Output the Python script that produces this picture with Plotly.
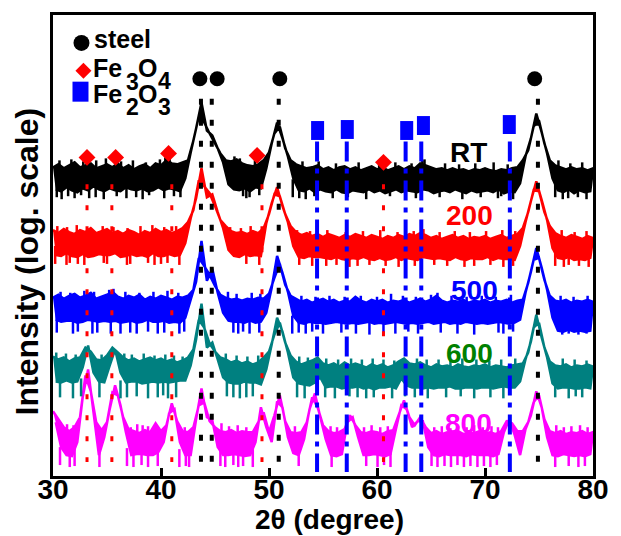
import numpy as np
import plotly.graph_objects as go

# ---------------------------------------------------------------------------
# XRD patterns (offset, log intensity). Each noisy pattern is stored as its
# upper edge (sampled at 30.0, 30.5 ... 80.0 deg), its solid lower edge
# (sampled at 30.25, 30.75 ... 79.75 deg), the isolated downward spikes that
# reach below the lower edge and the short upward ticks above the upper edge
# (2theta and tip value for both).
# ---------------------------------------------------------------------------
two_theta_top = np.linspace(30.0, 80.0, 101)
two_theta_bot = np.linspace(30.25, 79.75, 100)

rt_top = [
    311, 314, 310, 313, 316, 311, 313, 315, 310, 312,
    314, 311, 315, 310, 313, 309, 312, 314, 310, 315,
    313, 318, 315, 314, 316, 318, 338, 362, 356, 345,
    335, 325, 318, 317, 319, 315, 313, 312, 314, 318,
    326, 345, 352, 330, 318, 314, 312, 310, 311, 313,
    309, 311, 308, 311, 312, 309, 311, 308, 310, 312,
    309, 311, 308, 310, 312, 309, 312, 310, 315, 313,
    311, 309, 310, 308, 310, 308, 309, 307, 309, 308,
    310, 308, 307, 309, 308, 310, 311, 318, 328, 352,
    358, 335, 318, 313, 311, 309, 311, 309, 310, 308,
    310]
rt_bot = [
    289, 287, 291, 288, 286, 290, 288, 292, 289, 287,
    290, 288, 287, 291, 289, 288, 290, 287, 288, 291,
    288, 290, 289, 287, 300, 326, 350, 376, 348, 343,
    330, 316, 294, 289, 288, 290, 287, 291, 290, 310,
    335, 356, 340, 322, 300, 288, 287, 290, 286, 289,
    287, 286, 289, 286, 285, 288, 287, 286, 289, 286,
    288, 285, 287, 289, 286, 288, 287, 286, 289, 288,
    285, 287, 288, 286, 289, 287, 285, 288, 286, 287,
    288, 286, 289, 285, 287, 286, 295, 322, 340, 365,
    346, 325, 300, 288, 286, 289, 285, 288, 286, 287]
rt_spike_x = [30.35, 30.8, 31.4, 32.0, 32.6, 33.35, 33.95, 34.7, 35.9, 36.8,
              37.7, 38.3, 38.9, 40.3, 41.2, 41.8, 47.6, 47.9, 48.2, 49.1,
              52.2, 52.8, 53.4, 54.2, 55.9, 57.3, 59.0, 61.2, 63.6, 65.8,
              67.9, 69.6, 71.2, 71.5, 72.6, 76.5, 77.2, 77.7, 78.6, 79.4]
rt_spike_y = [281, 279, 282, 280, 283, 280, 281, 279, 282, 280,
              281, 279, 283, 280, 282, 281, 282, 280, 281, 283,
              281, 280, 279, 282, 280, 281, 279, 282, 280, 281,
              279, 281, 280, 282, 279, 281, 279, 280, 281, 279]
rt_tick_x = [30.6, 31.7, 32.8, 34.0, 34.9, 36.3, 37.4, 38.6, 39.9, 40.4,
             40.8, 46.8, 47.3, 48.7, 53.1, 54.6, 56.2, 58.3, 60.2, 61.7,
             63.2, 64.2, 64.4, 66.3, 67.6, 69.1, 70.8, 72.1, 76.8, 77.9,
             79.0]
rt_tick_y = [318, 319, 317, 318, 320, 317, 318, 316, 319, 321,
             320, 322, 320, 318, 317, 317, 315, 316, 315, 316,
             315, 318, 319, 315, 314, 315, 316, 314, 318, 315,
             316]

t200_top = [
    248, 245, 249, 246, 244, 248, 246, 250, 245, 247,
    249, 245, 247, 244, 248, 246, 243, 247, 245, 249,
    246, 248, 245, 247, 250, 256, 268, 298, 292, 285,
    272, 258, 252, 247, 245, 246, 244, 247, 245, 250,
    264, 284, 282, 264, 252, 246, 243, 245, 242, 244,
    241, 244, 242, 240, 243, 241, 244, 242, 240, 243,
    241, 239, 242, 240, 243, 241, 244, 242, 245, 243,
    240, 242, 239, 241, 243, 240, 242, 239, 241, 240,
    242, 239, 241, 243, 240, 242, 244, 250, 266, 288,
    287, 266, 252, 245, 242, 240, 243, 241, 239, 242,
    240]
t200_bot = [
    223, 222, 225, 222, 221, 224, 221, 222, 224, 223,
    223, 225, 221, 222, 224, 222, 223, 221, 225, 222,
    222, 224, 222, 223, 235, 260, 280, 310, 281, 284,
    266, 250, 228, 222, 221, 224, 222, 223, 222, 255,
    275, 291, 272, 256, 232, 221, 220, 222, 221, 221,
    220, 219, 221, 219, 218, 220, 219, 221, 219, 218,
    220, 218, 219, 221, 218, 220, 219, 218, 221, 220,
    219, 220, 219, 218, 221, 219, 218, 220, 219, 219,
    221, 218, 220, 219, 219, 218, 232, 256, 277, 297,
    278, 258, 230, 220, 219, 221, 218, 219, 218, 220]
t200_spike_x = [30.2, 31.25, 31.55, 32.3, 32.9, 34.7, 35.0, 36.85, 37.15, 38.8,
                39.4, 40.0, 40.6, 41.7, 47.9, 49.1, 52.8, 54.0, 55.3, 56.25,
                57.45, 58.2, 59.3, 60.8, 62.0, 63.5, 65.3, 66.5, 68.1, 69.0,
                70.5, 71.7, 72.6, 76.5, 77.3, 77.75, 78.7, 79.6]
t200_spike_y = [214, 213, 215, 214, 213, 215, 214, 213, 214, 215,
                213, 214, 215, 213, 214, 213, 213, 212, 212, 213,
                211, 212, 213, 212, 211, 212, 213, 212, 211, 212,
                213, 211, 212, 212, 211, 213, 212, 211]
t200_tick_x = [30.4, 31.3, 32.2, 33.4, 34.6, 35.6, 36.9, 38.1, 39.2, 40.3,
               41.4, 46.4, 47.4, 48.3, 52.6, 53.8, 55.4, 57.1, 58.7, 60.3,
               61.9, 63.4, 64.3, 65.8, 67.2, 68.6, 70.1, 71.6, 72.8, 77.1,
               78.3, 79.4]
t200_tick_y = [252, 251, 253, 250, 252, 251, 250, 252, 253, 251,
               252, 251, 250, 252, 248, 247, 248, 246, 247, 248,
               246, 247, 249, 246, 247, 246, 247, 248, 247, 248,
               246, 247]

t500_top = [
    180, 183, 179, 182, 184, 180, 182, 185, 179, 181,
    183, 186, 181, 179, 182, 180, 183, 178, 181, 179,
    182, 180, 178, 181, 180, 182, 188, 220, 212, 203,
    192, 183, 180, 178, 179, 177, 179, 178, 180, 179,
    184, 200, 214, 193, 182, 179, 176, 178, 175, 177,
    179, 176, 178, 175, 177, 176, 181, 177, 175, 178,
    176, 178, 175, 177, 176, 178, 175, 177, 179, 176,
    178, 182, 177, 175, 177, 176, 178, 175, 177, 176,
    178, 175, 177, 176, 178, 175, 177, 178, 195, 218,
    220, 198, 182, 177, 176, 178, 175, 177, 176, 178,
    176]
t500_bot = [
    158, 156, 157, 157, 155, 156, 158, 157, 156, 157,
    156, 157, 155, 156, 157, 155, 156, 158, 156, 156,
    157, 155, 156, 155, 160, 178, 196, 237, 197, 209,
    185, 165, 157, 156, 156, 155, 157, 155, 156, 165,
    190, 222, 205, 186, 162, 155, 154, 156, 155, 155,
    154, 155, 156, 155, 154, 155, 154, 155, 156, 154,
    155, 154, 155, 156, 155, 154, 155, 154, 155, 156,
    154, 155, 156, 154, 155, 154, 156, 155, 154, 155,
    154, 155, 156, 155, 154, 155, 158, 185, 206, 230,
    210, 188, 160, 147, 146, 148, 146, 147, 146, 147]
t500_spike_x = [30.35, 31.85, 32.3, 33.65, 34.1, 35.35, 36.25, 37.15, 37.75, 38.8,
                39.7, 40.3, 41.7, 42.15, 46.7, 47.15, 47.6, 48.2, 49.1, 52.15,
                52.75, 53.4, 54.0, 55.0, 56.7, 58.05, 59.3, 60.6, 61.7, 62.9,
                63.8, 65.9, 67.45, 69.0, 71.25, 71.7, 72.6, 77.15, 77.75, 78.65,
                79.4]
t500_spike_y = [145, 144, 146, 144, 145, 144, 144, 145, 144, 146,
                144, 145, 144, 146, 145, 144, 146, 144, 145, 144,
                145, 144, 146, 144, 145, 144, 143, 145, 144, 146,
                144, 145, 144, 143, 145, 144, 146, 143, 144, 143,
                144]
t500_tick_x = [30.7, 31.6, 32.9, 33.8, 35.2, 35.6, 36.7, 38.0, 39.3, 40.6,
               41.6, 46.2, 47.0, 48.4, 49.2, 53.0, 54.3, 55.6, 57.0, 58.5,
               60.0, 61.3, 62.4, 63.6, 65.0, 65.6, 66.9, 68.3, 69.7, 71.0,
               72.4, 77.0, 78.2, 79.5]
t500_tick_y = [186, 185, 187, 186, 188, 189, 186, 185, 186, 187,
               185, 186, 184, 185, 184, 182, 181, 182, 181, 182,
               181, 184, 182, 181, 183, 185, 182, 181, 182, 181,
               183, 182, 181, 182]

t600_top = [
    121, 118, 120, 116, 119, 120, 130, 126, 118, 117,
    122, 130, 125, 120, 117, 119, 116, 118, 120, 117,
    119, 116, 118, 115, 117, 120, 128, 158, 150, 134,
    126, 120, 118, 115, 117, 114, 116, 113, 115, 120,
    126, 143, 155, 135, 122, 116, 113, 115, 117, 120,
    114, 112, 114, 111, 115, 112, 114, 112, 110, 113,
    111, 113, 110, 112, 116, 119, 114, 113, 115, 112,
    110, 113, 111, 112, 110, 113, 111, 110, 112, 111,
    113, 110, 112, 111, 110, 112, 113, 114, 125, 150,
    155, 130, 116, 112, 111, 113, 110, 112, 111, 113,
    111]
t600_bot = [
    96, 95, 97, 95, 96, 110, 132, 105, 96, 95,
    112, 128, 105, 95, 96, 96, 94, 95, 96, 95,
    96, 95, 96, 97, 97, 112, 138, 174, 130, 135,
    118, 100, 95, 94, 94, 96, 95, 95, 93, 108,
    133, 160, 146, 125, 100, 94, 93, 92, 95, 100,
    90, 91, 91, 89, 90, 90, 91, 89, 90, 88,
    90, 90, 91, 89, 99, 92, 90, 90, 89, 90,
    89, 90, 90, 91, 89, 89, 90, 90, 89, 90,
    90, 89, 90, 91, 90, 90, 96, 118, 136, 163,
    140, 120, 94, 89, 90, 90, 89, 89, 90, 89]
t600_spike_x = [30.65, 31.85, 32.6, 34.3, 36.25, 36.85, 37.75, 38.8, 39.7, 40.2,
                40.65, 41.4, 46.1, 46.7, 47.3, 47.9, 48.5, 52.6, 53.3, 55.2,
                56.1, 57.45, 58.2, 59.0, 59.7, 61.4, 62.6, 63.5, 64.7, 66.4,
                67.75, 69.0, 70.5, 71.7, 76.5, 77.75, 78.4, 79.0]
t600_spike_y = [80, 79, 81, 80, 79, 80, 81, 79, 80, 82,
                79, 80, 81, 80, 79, 80, 81, 80, 79, 80,
                79, 81, 80, 79, 80, 79, 81, 80, 79, 80,
                81, 79, 80, 79, 80, 79, 81, 80]
t600_tick_x = [30.3, 31.2, 32.1, 34.5, 36.6, 37.3, 38.4, 39.4, 40.4, 41.2,
               42.0, 46.0, 47.0, 48.0, 49.0, 52.8, 53.6, 55.3, 56.4, 57.6,
               58.6, 59.6, 60.6, 61.6, 63.7, 64.6, 65.7, 66.8, 67.9, 69.2,
               70.4, 71.5, 72.8, 77.2, 78.3, 79.4]
t600_tick_y = [125, 124, 123, 123, 124, 123, 124, 122, 123, 122,
               121, 124, 122, 121, 122, 121, 120, 119, 118, 119,
               118, 119, 118, 117, 119, 118, 118, 117, 119, 118,
               117, 118, 119, 119, 118, 117]

t800_top = [
    66, 58, 50, 46, 50, 60, 102, 86, 55, 47,
    55, 85, 82, 60, 48, 46, 44, 47, 45, 54,
    46, 52, 74, 56, 46, 45, 50, 72, 75, 56,
    50, 46, 45, 47, 44, 46, 45, 45, 55, 65,
    45, 62, 82, 56, 45, 44, 45, 55, 80, 70,
    52, 46, 44, 45, 48, 62, 52, 45, 44, 46,
    45, 43, 46, 47, 62, 77, 60, 52, 60, 50,
    44, 46, 43, 45, 44, 46, 43, 45, 44, 46,
    44, 45, 43, 46, 56, 54, 46, 46, 55, 75,
    82, 58, 46, 44, 46, 43, 45, 44, 46, 43,
    45]
t800_bot = [
    55, 30, 22, 21, 35, 80, 108, 65, 22, 40,
    68, 92, 72, 45, 22, 23, 23, 22, 22, 25,
    35, 64, 68, 35, 22, 22, 58, 89, 60, 57,
    30, 22, 22, 23, 22, 21, 22, 35, 70, 50,
    35, 76, 70, 40, 24, 22, 38, 68, 84, 60,
    38, 22, 21, 23, 55, 60, 40, 22, 22, 23,
    22, 21, 23, 48, 72, 68, 50, 56, 56, 30,
    22, 21, 23, 22, 22, 22, 21, 23, 22, 22,
    22, 21, 23, 45, 58, 42, 22, 48, 62, 86,
    70, 40, 22, 21, 23, 22, 21, 22, 21, 23]
t800_spike_x = [30.65, 31.55, 32.0, 34.3, 36.85, 37.45, 38.2, 38.8, 39.7, 41.7,
                42.3, 42.6, 45.5, 45.95, 46.7, 47.15, 47.6, 48.5, 52.75, 55.8,
                59.0, 60.05, 60.65, 61.25, 65.05, 65.6, 66.25, 66.85, 67.45, 68.05,
                68.65, 69.3, 69.9, 70.5, 71.1, 76.5, 77.75, 78.65, 79.25]
t800_spike_y = [12, 10, 11, 10, 11, 10, 12, 10, 11, 10,
                11, 10, 11, 10, 12, 10, 11, 10, 11, 10,
                11, 10, 12, 10, 11, 10, 11, 10, 12, 10,
                11, 10, 11, 10, 12, 10, 11, 10, 11]
t800_tick_x = [31.3, 31.9, 37.2, 37.8, 38.3, 38.8, 42.2, 45.6, 46.3, 47.1,
               47.9, 52.4, 55.7, 56.3, 58.8, 59.5, 60.3, 61.0, 65.3, 66.0,
               66.8, 67.5, 68.3, 69.0, 69.8, 70.6, 71.2, 76.6, 77.3, 78.0,
               78.8, 79.5]
t800_tick_y = [53, 52, 50, 53, 52, 51, 50, 54, 51, 52,
               50, 51, 51, 50, 50, 52, 50, 51, 50, 51,
               49, 51, 50, 52, 50, 51, 50, 52, 50, 51,
               52, 50]

sample_names = ["RT", "200", "500", "600", "800"]

# Reference peak positions (2theta, deg) of the indexed phases
steel_peaks = [43.7, 44.7, 50.9, 74.9]
fe3o4_peaks = [33.15, 35.45, 41.0, 49.35, 60.6]
fe2o3_peaks = [54.45, 57.2, 62.65, 64.1, 72.3]

# Where the phase symbols sit above the patterns
steel_symbol_x = [43.6, 45.2, 51.0, 74.6]
fe3o4_symbol_x = [33.15, 35.8, 40.7, 48.9, 60.6]
fe2o3_symbol_x = [54.5, 57.25, 62.75, 64.3, 72.25]

# ---------------------------------------------------------------------------
FONT = "Arial, Liberation Sans, sans-serif"
W, H = 621, 536
ML, MR, MT, MB = 53, 18, 13, 60
PW, PH = W - ML - MR, H - MT - MB


def paper_x(px):
    return (px - ML) / PW


def paper_y(py):
    return (H - MB - py) / PH


def band_outline(top, bot):
    xs = list(two_theta_top) + list(two_theta_bot[::-1])
    ys = list(top) + list(bot[::-1])
    return xs, ys


def vertical_segments(xpos, y_from, y_to):
    xs, ys = [], []
    for p, a, b in zip(xpos, y_from, y_to):
        xs += [p, p, None]
        ys += [a, b, None]
    return xs, ys


fig = go.Figure()

patterns = [
    (t800_top, t800_bot, t800_spike_x, t800_spike_y, t800_tick_x, t800_tick_y, "#FF00FF"),
    (t600_top, t600_bot, t600_spike_x, t600_spike_y, t600_tick_x, t600_tick_y, "#008080"),
    (t500_top, t500_bot, t500_spike_x, t500_spike_y, t500_tick_x, t500_tick_y, "#0000FF"),
    (t200_top, t200_bot, t200_spike_x, t200_spike_y, t200_tick_x, t200_tick_y, "#FF0000"),
    (rt_top, rt_bot, rt_spike_x, rt_spike_y, rt_tick_x, rt_tick_y, "#000000"),
]
SPIKE_LEN = 18   # spikes are drawn from their tip back into the band
TICK_LEN = 10    # upward ticks likewise
for top, bot, sx, sy, tx, ty, color in patterns:
    xs, ys = band_outline(top, bot)
    fig.add_trace(go.Scatter(x=xs, y=ys, mode="lines", fill="toself",
                             fillcolor=color,
                             line=dict(color=color, width=2.5, simplify=False),
                             hoverinfo="skip", showlegend=False))
    kx, ky = vertical_segments(sx, sy, [v + SPIKE_LEN for v in sy])
    ux, uy = vertical_segments(tx, ty, [v - TICK_LEN for v in ty])
    fig.add_trace(go.Scatter(x=kx + ux, y=ky + uy, mode="lines",
                             line=dict(color=color, width=2.5),
                             hoverinfo="skip", showlegend=False))

# phase guide lines, drawn over the patterns
n = len(fe3o4_peaks)
gx, gy = vertical_segments(fe3o4_peaks, [294] * n, [15] * n)
fig.add_trace(go.Scatter(x=gx, y=gy, mode="lines", showlegend=False,
                         line=dict(color="#FF0000", width=3, dash="5px,16px")))
n = len(steel_peaks)
gx, gy = vertical_segments(steel_peaks, [380] * n, [15] * n)
fig.add_trace(go.Scatter(x=gx, y=gy, mode="lines", showlegend=False,
                         line=dict(color="#000000", width=4, dash="6px,15px")))
n = len(fe2o3_peaks)
gx, gy = vertical_segments(fe2o3_peaks, [337] * n, [5] * n)
fig.add_trace(go.Scatter(x=gx, y=gy, mode="lines", showlegend=False,
                         line=dict(color="#0000FF", width=4,
                                   dash="20px,7px,5px,7px")))

# phase symbols
fig.add_trace(go.Scatter(x=steel_symbol_x, y=[400] * len(steel_symbol_x),
                         mode="markers", showlegend=False,
                         marker=dict(symbol="circle", size=15, color="#000000")))
fig.add_trace(go.Scatter(x=fe3o4_symbol_x, y=[321, 321, 325, 323, 316],
                         mode="markers", showlegend=False,
                         marker=dict(symbol="diamond", size=13, color="#FF0000")))
rect_y = [348, 349, 348, 353, 354]
rx, ry = vertical_segments(fe2o3_symbol_x, [v - 9.5 for v in rect_y],
                           [v + 9.5 for v in rect_y])
fig.add_trace(go.Scatter(x=rx, y=ry, mode="lines", showlegend=False,
                         line=dict(color="#0000FF", width=13)))

# sample labels
label_pos = [(68.45, 326, "#000000"), (68.6, 263, "#FF0000"),
             (69.0, 187, "#0000FF"), (68.6, 124, "#008000"),
             (68.45, 54, "#FF00FF")]
for name, (lx, ly, c) in zip(sample_names, label_pos):
    fig.add_annotation(x=lx, y=ly, xref="x", yref="y", text=name,
                       showarrow=False, xanchor="center", yanchor="middle",
                       font=dict(family=FONT, size=28, color=c, weight="bold"))

# phase key in the upper-left corner
fig.add_shape(type="circle", xref="paper", yref="paper",
              xsizemode="pixel", ysizemode="pixel",
              xanchor=paper_x(82), yanchor=paper_y(41),
              x0=-8, x1=8, y0=-8, y1=8,
              fillcolor="#000000", line=dict(width=0))
fig.add_shape(type="path", xref="paper", yref="paper",
              xsizemode="pixel", ysizemode="pixel",
              xanchor=paper_x(84), yanchor=paper_y(69),
              path="M 0,8 L 8,0 L 0,-8 L -8,0 Z",
              fillcolor="#FF0000", line=dict(width=0))
fig.add_shape(type="rect", xref="paper", yref="paper",
              xsizemode="pixel", ysizemode="pixel",
              xanchor=paper_x(81), yanchor=paper_y(90),
              x0=-8, x1=8, y0=-10, y1=10,
              fillcolor="#0000FF", line=dict(width=0))
key_parts = [
    ("steel", 93, 37, 25),
    ("Fe", 92, 66, 25), ("3", 125, 80, 23), ("O", 138, 66, 25), ("4", 158, 79, 23),
    ("Fe", 92, 92, 25), ("2", 125, 105, 23), ("O", 138, 92, 25), ("3", 158, 105, 23),
]
for text, kx, ky, ks in key_parts:
    fig.add_annotation(x=paper_x(kx), y=paper_y(ky), xref="paper",
                       yref="paper", text=text, showarrow=False,
                       xanchor="left", yanchor="middle",
                       font=dict(family=FONT, size=ks, color="#000000",
                                 weight="bold"))

# axis titles
fig.add_annotation(x=paper_x(335), y=paper_y(520), xref="paper", yref="paper",
                   text="2θ (degree)", showarrow=False,
                   xanchor="center", yanchor="middle",
                   font=dict(family=FONT, size=28, color="#000000",
                             weight="bold"))
fig.add_annotation(x=paper_x(26), y=paper_y(260), xref="paper", yref="paper",
                   text="Intensity (log. scale)", showarrow=False,
                   textangle=-90, xanchor="center", yanchor="middle",
                   font=dict(family=FONT, size=32, color="#000000",
                             weight="bold"))

fig.update_xaxes(range=[30, 80], tickvals=[30, 40, 50, 60, 70, 80],
                 ticks="inside", ticklen=8, tickwidth=3, tickcolor="#000000",
                 ticklabelstandoff=-14,
                 showline=True, linewidth=3, linecolor="#000000", mirror=True,
                 showgrid=False, zeroline=False,
                 tickfont=dict(family=FONT, size=28, color="#000000",
                               weight="bold"))
fig.update_yaxes(range=[1, 464], showticklabels=False, ticks="",
                 showline=True, linewidth=3, linecolor="#000000", mirror=True,
                 showgrid=False, zeroline=False)
fig.update_layout(width=W, height=H, margin=dict(l=ML, r=MR, t=MT, b=MB),
                  paper_bgcolor="#FFFFFF", plot_bgcolor="#FFFFFF")

fig.write_html("out.html")
